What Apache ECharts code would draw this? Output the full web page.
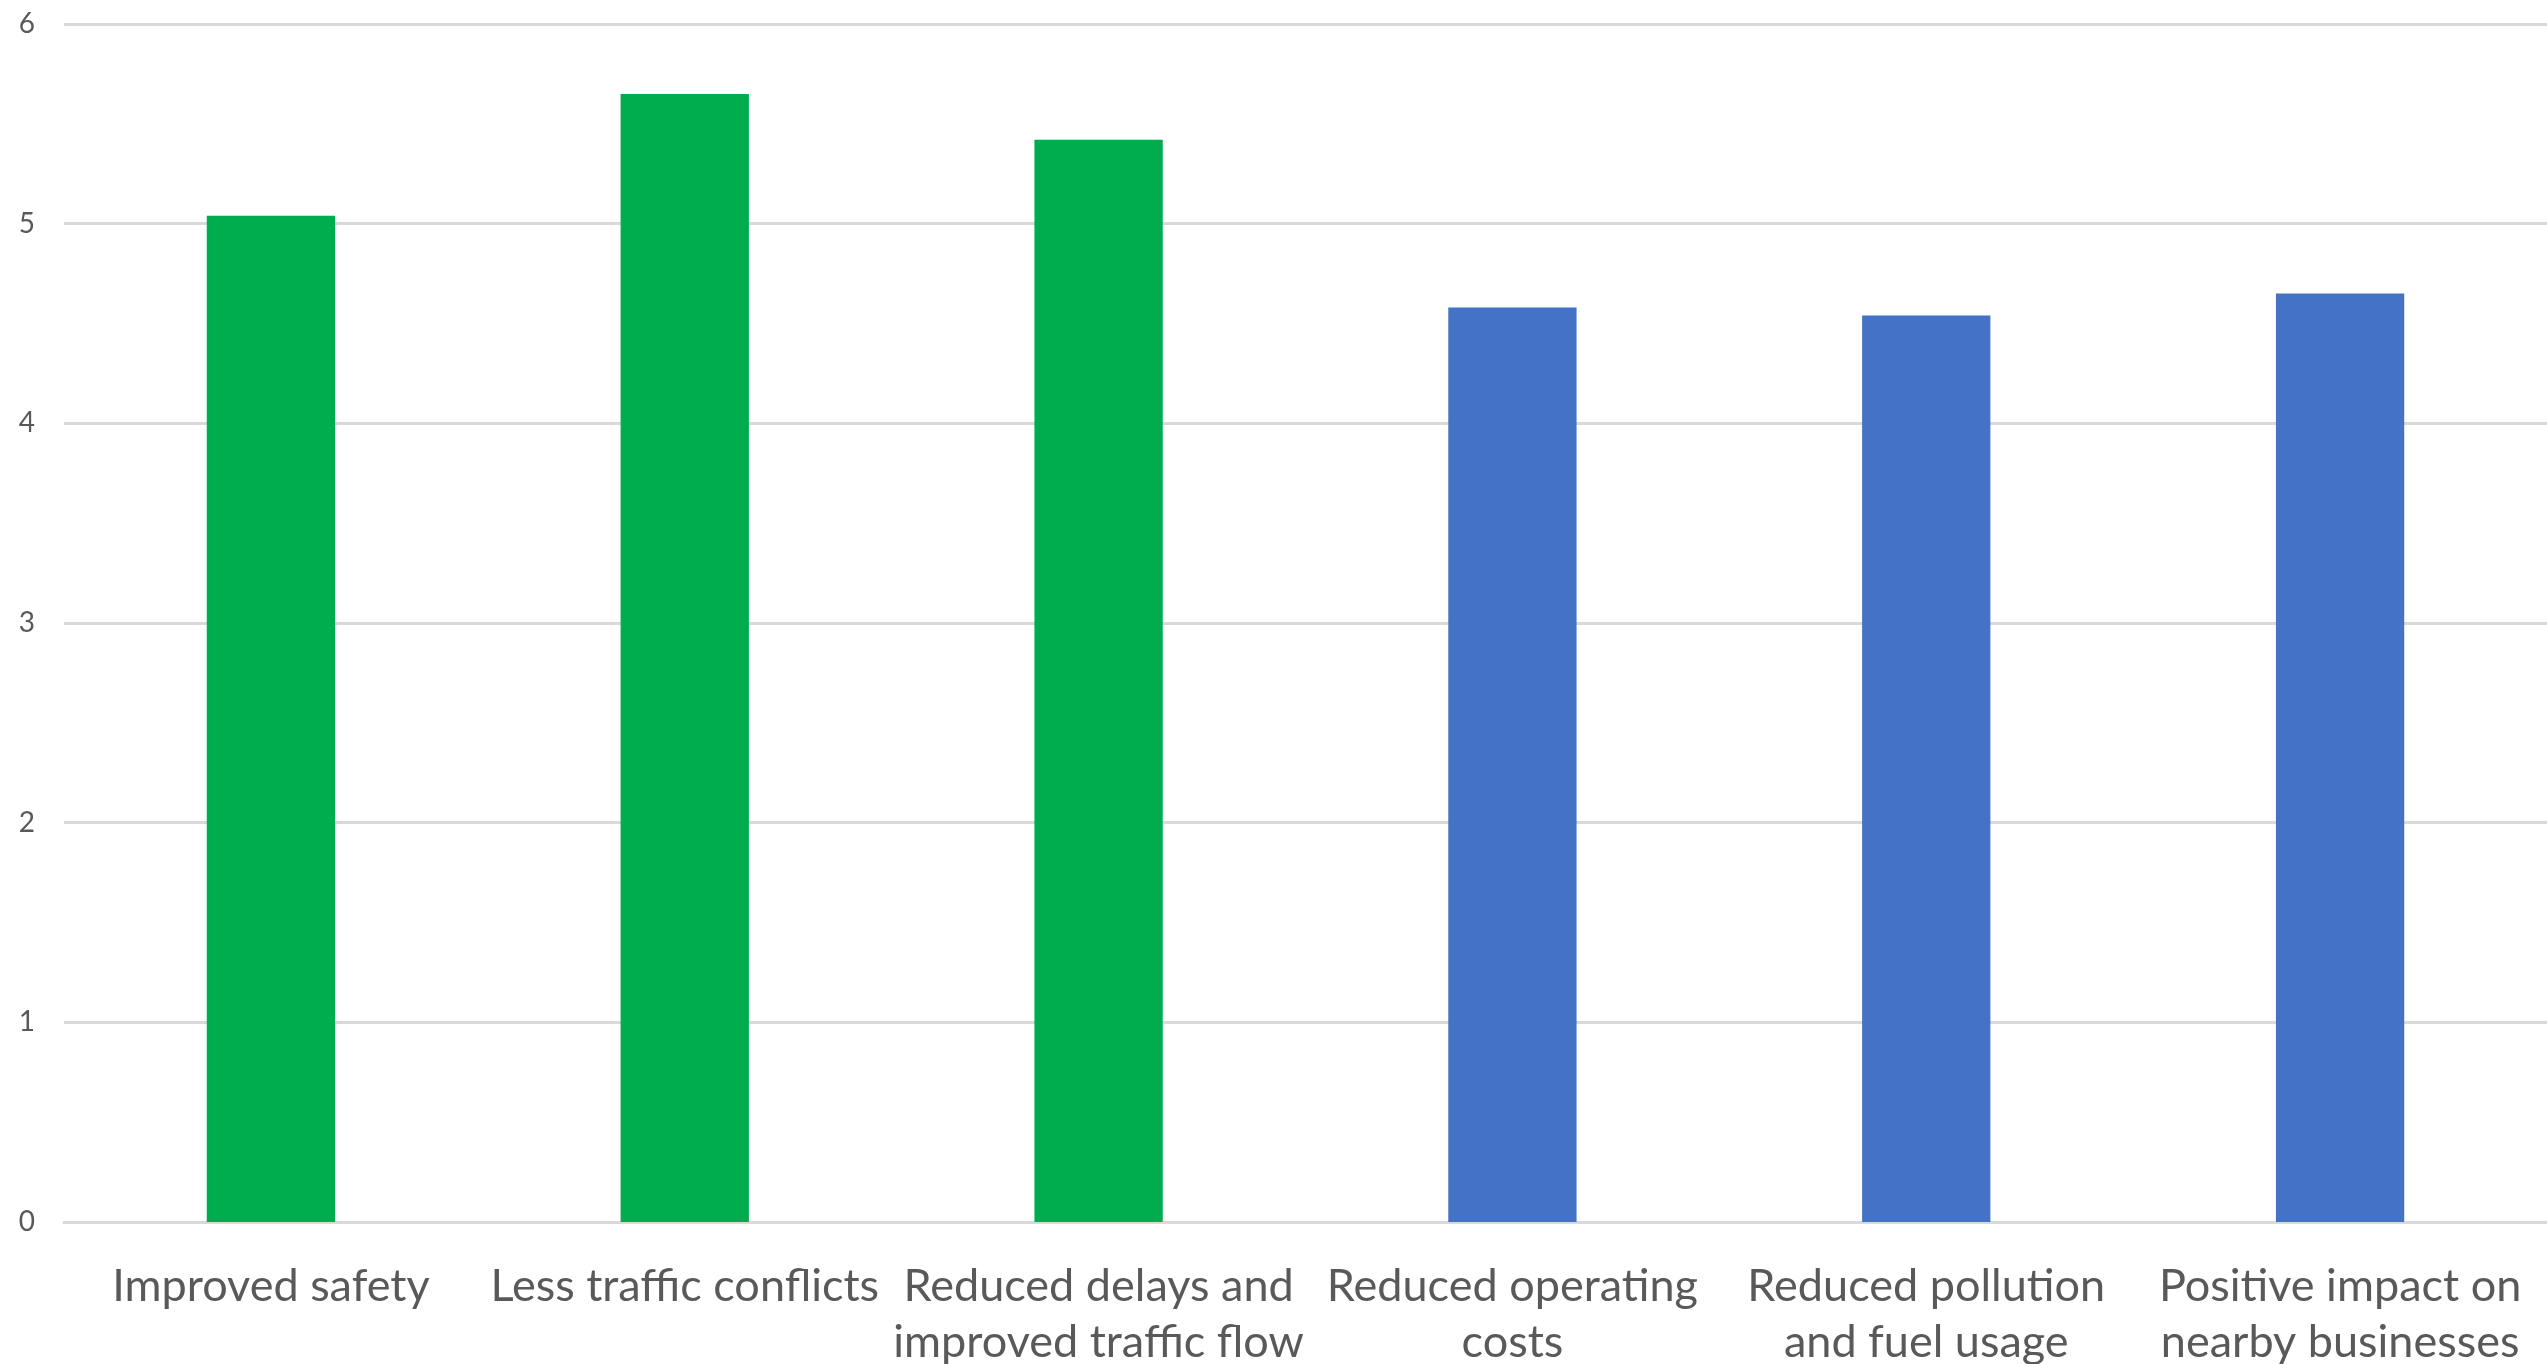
<!DOCTYPE html>
<html>
<head>
<meta charset="utf-8">
<script src="https://cdn.jsdelivr.net/npm/echarts@6/dist/echarts.min.js"></script>
<style>
html,body{margin:0;padding:0;background:#fff;}
#chart{width:2547px;height:1364px;}
</style>
</head>
<body>
<div id="chart"></div>
<script>
const categories = [
  'Improved safety',
  'Less traffic conflicts',
  'Reduced delays and\nimproved traffic flow',
  'Reduced operating\ncosts',
  'Reduced pollution\nand fuel usage',
  'Positive impact on\nnearby businesses'
];
const values = [5.04, 5.65, 5.42, 4.58, 4.54, 4.65];
const yTicks = { min: 0, max: 6, interval: 1 };

const barColors = ['#00AD4E', '#00AD4E', '#00AD4E', '#4472C4', '#4472C4', '#4472C4'];

const chart = echarts.init(document.getElementById('chart'), null, { renderer: 'canvas' });
chart.setOption({
  animation: false,
  backgroundColor: '#ffffff',
  grid: { left: 64, right: 0, top: 24, bottom: 142, containLabel: false, outerBoundsMode: 'none' },
  xAxis: {
    type: 'category',
    data: categories,
    axisTick: { show: false },
    axisLine: { show: true, lineStyle: { color: '#D9D9D9', width: 3 } },
    axisLabel: {
      interval: 0,
      color: '#595959',
      fontFamily: 'Lato',
      fontSize: 45,
      lineHeight: 56,
      margin: 36
    }
  },
  yAxis: {
    type: 'value',
    min: yTicks.min,
    max: yTicks.max,
    interval: yTicks.interval,
    axisLine: { show: false },
    axisTick: { show: false },
    splitLine: { lineStyle: { color: '#D9D9D9', width: 3 } },
    axisLabel: {
      color: '#595959',
      fontFamily: 'Lato',
      fontSize: 28,
      margin: 29
    }
  },
  series: [{
    type: 'bar',
    data: values.map((v, i) => ({ value: v, itemStyle: { color: barColors[i] } })),
    barWidth: '31%'
  }]
});
</script>
</body>
</html>
